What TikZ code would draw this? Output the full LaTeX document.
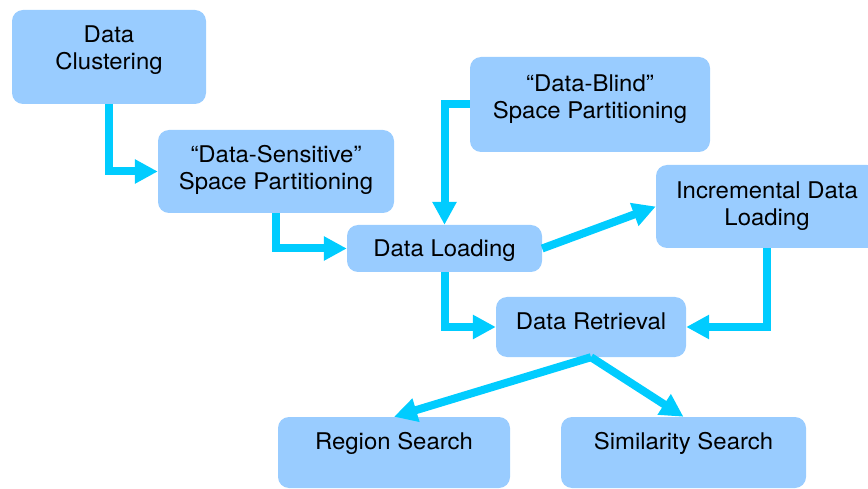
\documentclass[tikz,border=0pt]{standalone}
\usepackage{fontspec}
\setmainfont{TeX Gyre Heros}[FakeStretch=1.04]
\usetikzlibrary{arrows.meta}
\definecolor{boxblue}{HTML}{99CCFF}
\definecolor{flowcyan}{HTML}{00CCFF}
\begin{document}
\begin{tikzpicture}[x=1pt,y=-1pt,
  stagebox/.style={draw=none, fill=boxblue, rounded corners=11pt, inner sep=0pt},
  stagetext/.style={anchor=north, inner sep=0pt, align=center,
    font=\fontsize{23}{27}\selectfont},
  flow/.style={draw=flowcyan, line width=8pt,
    -{Triangle[length=23pt,width=23pt]}, flowcyan}]
\useasboundingbox (0,0) rectangle (868,489);

% boxes
\node[stagebox, minimum width=194pt, minimum height=94pt] (dc)  at (109,57)    {};
\node[stagebox, minimum width=236pt, minimum height=83pt] (ds)  at (276,171.5) {};
\node[stagebox, minimum width=240pt, minimum height=95pt] (db)  at (590,104.5) {};
\node[stagebox, minimum width=195pt, minimum height=47pt] (dl)  at (444.5,248.5) {};
\node[stagebox, minimum width=222pt, minimum height=83pt] (idl) at (767,206.5) {};
\node[stagebox, minimum width=190pt, minimum height=60pt] (dr)  at (591,327)   {};
\node[stagebox, minimum width=232pt, minimum height=71pt] (rs)  at (394,452.5) {};
\node[stagebox, minimum width=245pt, minimum height=71pt] (ss)  at (683.5,452.5) {};

% labels
\node[stagetext] (tdc)  at ([yshift=-16pt]dc.north)  {Data\\Clustering};
\node[stagetext] (tds)  at ([yshift=-15pt]ds.north)  {“Data-Sensitive”\\Space Partitioning};
\node[stagetext] (tdb)  at ([yshift=-18pt]db.north)  {“Data-Blind”\\Space Partitioning};
\node[stagetext] (tdl)  at ([yshift=-15pt]dl.north)  {Data Loading};
\node[stagetext] (tidl) at ([yshift=-17pt]idl.north) {Incremental Data\\Loading};
\node[stagetext] (tdr)  at ([yshift=-16pt]dr.north)  {Data Retrieval};
\node[stagetext] (trs)  at ([yshift=-15pt]rs.north)  {Region Search};
\node[stagetext] (tss)  at ([yshift=-15pt]ss.north)  {Similarity Search};

% connectors
\draw[flow] (dc.south) |- (ds.west);
\draw[flow] (ds.south) |- (dl.west);
\draw[flow] (db.west) -| (dl.north);
\draw[flow] (dl.east) -- (idl.west);
\draw[flow] (dl.south) |- (dr.west);
\draw[flow] (idl.south) |- (dr.east);
\draw[flow] (dr.south) -- (rs.north);
\draw[flow] (dr.south) -- (ss.north);
\end{tikzpicture}
\end{document}
